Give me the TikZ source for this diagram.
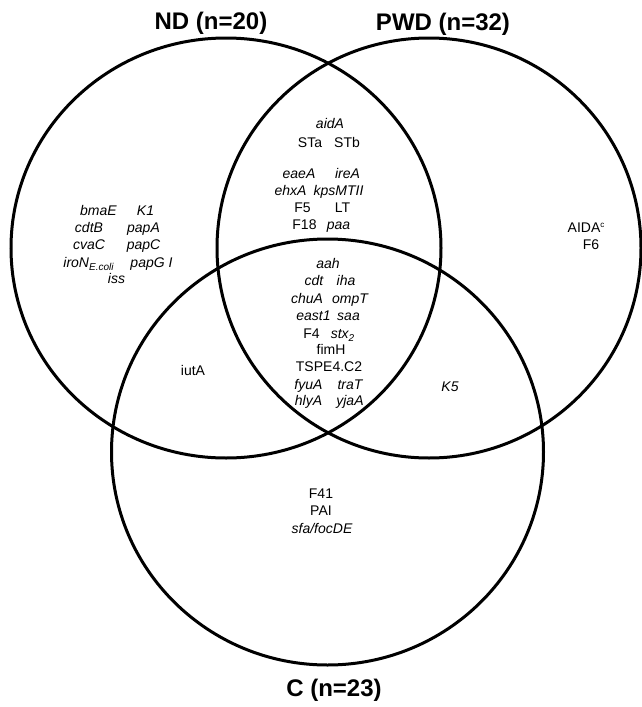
\documentclass[tikz,border=0pt]{standalone}
\usepackage{fontspec}
\setmainfont{Liberation Sans}
\newcommand{\lowsub}[1]{\raisebox{-3.5pt}{\fontsize{10}{10}\selectfont #1}}
\newcommand{\hisup}[1]{\raisebox{4.5pt}{\fontsize{8}{8}\selectfont #1}}
\begin{document}
\begin{tikzpicture}[x=1pt,y=-1pt,
  lbl/.style={anchor=base,inner sep=0pt,font=\fontsize{14}{17}\selectfont},
  gene/.style={anchor=base,inner sep=0pt,font=\fontsize{14}{17}\selectfont\itshape},
  ttl/.style={anchor=base,inner sep=0pt,font=\fontsize{24}{28}\selectfont\bfseries},
  setline/.style={line width=3pt}]
\useasboundingbox (0,0) rectangle (642,707);
% sets
\coordinate (cND) at (226,248);
\coordinate (cPWD) at (429,248);
\coordinate (cC) at (327.5,452);
\draw[setline] (cND) ellipse [x radius=215pt, y radius=210pt];
\draw[setline] (cPWD) ellipse [x radius=212pt, y radius=210pt];
\draw[setline] (cC) ellipse [x radius=216pt, y radius=213pt];
% titles
\node[ttl] (tND) at (211,29) {ND (n=20)};
\node[ttl] (tPWD) at (443,30) {PWD (n=32)};
\node[ttl] (tC) at (334,696) {C (n=23)};
% ND and PWD only
\node[gene] (aidA) at (330,128) {aidA};
\node[lbl] (STa) at (310,147) {STa};
\node[lbl] (STb) at (347,147) {STb};
\node[gene] (eaeA) at (299,178) {eaeA};
\node[gene] (ireA) at (347.5,178) {ireA};
\node[gene] (ehxA) at (290.5,195) {ehxA};
\node[gene] (kps) at (338.5,195) {kpsMTII};
\node[lbl] (F5) at (302.5,212) {F5};
\node[lbl] (LT) at (342.5,212) {LT};
\node[lbl] (F18) at (304.5,229) {F18};
\node[gene] (paa) at (338.5,229) {paa};
% all three
\node[gene] (aah) at (328,268) {aah};
\node[gene] (cdt) at (314,285) {cdt};
\node[gene] (iha) at (346,285) {iha};
\node[gene] (chuA) at (307,303) {chuA};
\node[gene] (ompT) at (350,303) {ompT};
\node[gene] (east1) at (313.5,320) {east1};
\node[gene] (saa) at (348.5,320) {saa};
\node[lbl] (F4) at (311.5,338) {F4};
\node[gene] (stx) at (342.5,338) {stx\lowsub{2}};
\node[lbl] (fimH) at (331,354) {fimH};
\node[lbl] (TSPE) at (329,371) {TSPE4.C2};
\node[gene] (fyuA) at (308.5,389) {fyuA};
\node[gene] (traT) at (350,389) {traT};
\node[gene] (hlyA) at (308.5,405) {hlyA};
\node[gene] (yjaA) at (350,405) {yjaA};
% ND only
\node[gene] (bmaE) at (98.5,215) {bmaE};
\node[gene] (K1) at (145.5,215) {K1};
\node[gene] (cdtB) at (89,232) {cdtB};
\node[gene] (papA) at (143.5,232) {papA};
\node[gene] (cvaC) at (89,249) {cvaC};
\node[gene] (papC) at (143.5,249) {papC};
\node[gene] (iroN) at (88.5,267) {iroN\lowsub{E.coli}};
\node[gene] (papG) at (151.5,267) {papG I};
\node[gene] (iss) at (116.5,283) {iss};
% PWD only
\node[lbl] (AIDA) at (586,232) {AIDA\hisup{c}};
\node[lbl] (F6) at (591,249) {F6};
% ND and C
\node[lbl] (iutA) at (193,375) {iutA};
% PWD and C
\node[gene] (K5) at (450,391) {K5};
% C only
\node[lbl] (F41) at (321,498) {F41};
\node[lbl] (PAI) at (321,515) {PAI};
\node[gene] (sfa) at (322,533) {sfa/focDE};
\end{tikzpicture}
\end{document}
